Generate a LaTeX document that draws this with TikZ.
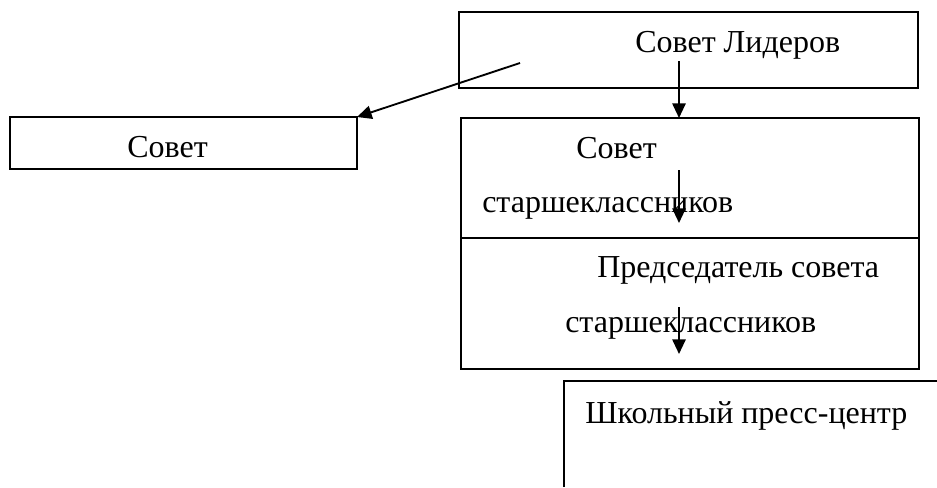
\documentclass[tikz,border=0pt]{standalone}
\usepackage{fontspec}
\setmainfont{Liberation Serif}
\usetikzlibrary{arrows.meta}

\begin{document}
\begin{tikzpicture}[x=0.75pt, y=-0.75pt,
    box/.style={draw, line width=1.1pt, inner sep=0pt, outer sep=0pt},
    lbl/.style={anchor=base west, inner sep=0pt, font=\fontsize{24}{28}\selectfont},
    arr/.style={line width=1.4pt, -{Triangle[length=11pt, width=10pt]}}]

  \useasboundingbox (0,0) rectangle (937,487);

  % boxes
  \node[box, minimum width=344.25pt, minimum height=57pt]    (lead)   at (688.5,50)  {};
  \node[box, minimum width=260.25pt, minimum height=39pt]    (sovet)  at (183.5,143) {};
  \node[box, minimum width=343.5pt,  minimum height=90pt]    (senior) at (690,178)   {};
  \node[box, minimum width=343.5pt,  minimum height=98.25pt] (chair)  at (690,303.5) {};
  \draw[line width=1.1pt] (564,487) |- (937,381);

  % texts
  \node[lbl] (leadtxt)    at (635,52)  {Совет Лидеров};
  \node[lbl] (sovettxt)   at (127,157) {Совет};
  \node[lbl] (seniortxt)  at (576,158) {Совет};
  \node[lbl] (seniortxtb) at (482,212) {старшеклассников};
  \node[lbl] (chairtxt)   at (597,277) {Председатель совета};
  \node[lbl] (chairtxtb)  at (565,332) {старшеклассников};
  \node[lbl] (presstxt)   at (585,423) {Школьный пресс-центр};

  \coordinate (d0) at (520,63);
  \coordinate (v0) at (679,61);
  \coordinate (v1) at (679,170);
  \coordinate (v1e) at (679,223);
  \coordinate (v2) at (679,307);
  \coordinate (v2e) at (679,354);

        % draw arrows
  \draw[arr] (d0) -- (sovet.north east);
  \draw[arr] (v0) -- (v0 |- senior.north);
  \draw[arr] (v1) -- (v1e);
  \draw[arr] (v2) -- (v2e);

\end{tikzpicture}
\end{document}
